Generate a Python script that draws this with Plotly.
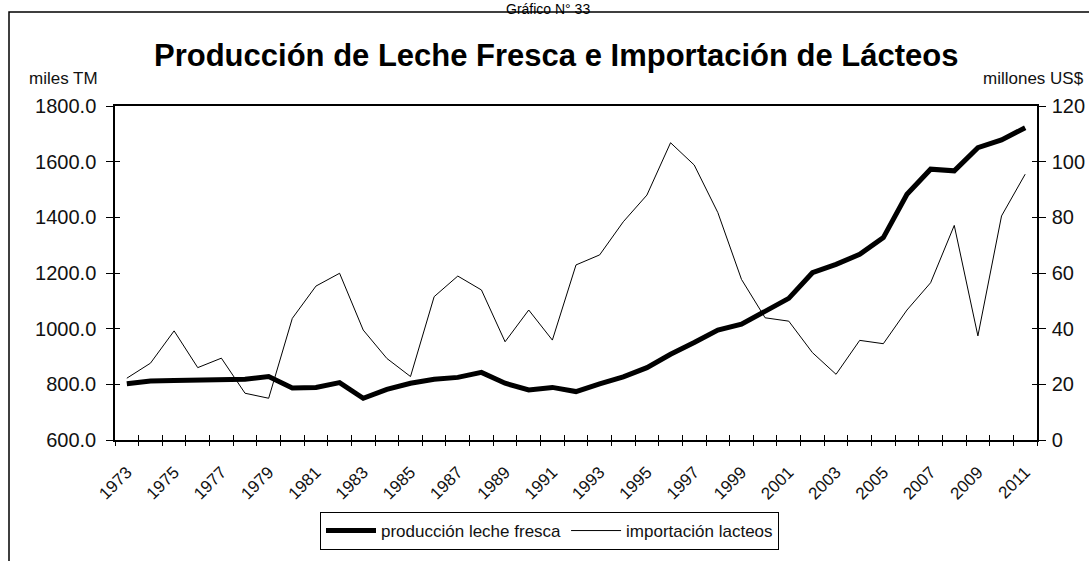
import plotly.graph_objects as go

years = list(range(1973, 2012))
produccion = [802, 812, 814, 815, 818, 818, 828, 787, 789, 806,
              750, 782, 804, 818, 825, 843, 804, 780, 789, 774,
              802, 827, 860, 908, 950, 995, 1016, 1064, 1109, 1201,
              1231, 1267, 1327, 1483, 1573, 1567, 1650, 1678, 1722]
importacion = [22.2, 27.6, 39.2, 26.0, 29.4, 16.8, 15.0, 43.7, 55.3, 59.9,
               39.5, 29.3, 22.8, 51.5, 58.9, 53.9, 35.3, 46.7, 35.9, 62.9,
               66.5, 78.4, 88.0, 106.8, 98.8, 81.7, 57.7, 43.9, 42.7, 31.4,
               23.6, 35.8, 34.6, 46.7, 56.5, 77.1, 37.4, 80.5, 95.5]
label_years = years[::2]
tick_labels = [str(y) for y in label_years]
boundaries = [y - 0.5 for y in years] + [years[-1] + 0.5]

W, H = 1089, 561
# plot area in window pixels
L, R, T, B = 115, 1037, 106, 440
def px2x(p): return (p - L) / (R - L)
def px2y(p): return (B - p) / (B - T)

FONT = "Liberation Sans, Arial, sans-serif"

fig = go.Figure()
fig.add_trace(go.Scatter(x=years, y=produccion, mode="lines", name="producción leche fresca",
                         line=dict(color="black", width=5), xaxis="x", yaxis="y"))
fig.add_trace(go.Scatter(x=years, y=importacion, mode="lines", name="importación lacteos",
                         line=dict(color="black", width=1), xaxis="x", yaxis="y2"))
# helper traces so the tick-only overlay axes are drawn
fig.add_trace(go.Scatter(x=[None], y=[None], xaxis="x2", yaxis="y3", showlegend=False, hoverinfo="skip"))
fig.add_trace(go.Scatter(x=[None], y=[None], xaxis="x3", yaxis="y4", showlegend=False, hoverinfo="skip"))

xr = [years[0] - 0.5, years[-1] + 0.5]
common_x = dict(range=xr, showgrid=False, zeroline=False, fixedrange=True, automargin=False)
fig.update_layout(
    width=W, height=H,
    margin=dict(l=L, r=W - R, t=T, b=H - B, autoexpand=False),
    paper_bgcolor="white", plot_bgcolor="white",
    font=dict(family=FONT, color="#111"),
    xaxis=dict(**common_x, tickmode="array", tickvals=label_years, ticktext=tick_labels,
               tickangle=-45, ticks="", showline=True, linecolor="black", linewidth=1.5,
               mirror=True, tickfont=dict(size=17, color="#111"), ticklabelstandoff=14),
    xaxis2=dict(**common_x, overlaying="x", anchor="y", tickmode="array", tickvals=boundaries,
                showticklabels=False, ticks="outside", ticklen=5, tickwidth=1.3, tickcolor="black",
                showline=False),
    xaxis3=dict(**common_x, overlaying="x", anchor="y", tickmode="array", tickvals=boundaries,
                showticklabels=False, ticks="inside", ticklen=5, tickwidth=1.3, tickcolor="black",
                showline=False),
    yaxis=dict(range=[600, 1800], dtick=200, tick0=600, tickformat=".1f", showgrid=False,
               zeroline=False, showline=True, linecolor="black", linewidth=1.5, automargin=False,
               ticks="outside", ticklen=7, tickwidth=1.3, tickcolor="black",
               tickfont=dict(size=20, color="#111"), ticklabelstandoff=6),
    yaxis2=dict(range=[0, 120], dtick=20, tick0=0, overlaying="y", side="right", anchor="x",
                showgrid=False, zeroline=False, showline=True, linecolor="black", linewidth=1.5,
                automargin=False, ticks="outside", ticklen=7, tickwidth=1.3, tickcolor="black",
                tickfont=dict(size=20, color="#111"), ticklabelstandoff=2),
    yaxis3=dict(range=[600, 1800], dtick=200, tick0=600, overlaying="y", side="left", anchor="x2",
                showgrid=False, zeroline=False, showline=False, showticklabels=False, automargin=False,
                ticks="inside", ticklen=5, tickwidth=1.3, tickcolor="black"),
    yaxis4=dict(range=[0, 120], dtick=20, tick0=0, overlaying="y", side="right", anchor="x3",
                showgrid=False, zeroline=False, showline=False, showticklabels=False, automargin=False,
                ticks="inside", ticklen=5, tickwidth=1.3, tickcolor="black"),
    legend=dict(orientation="h", x=px2x(320), y=px2y(512), xanchor="left", yanchor="top",
                bordercolor="black", borderwidth=1, bgcolor="white",
                font=dict(size=17, color="#111"), itemwidth=50),
    showlegend=True,
)

fig.add_shape(type="rect", xref="paper", yref="paper",
              x0=px2x(9), x1=px2x(1100), y0=px2y(575), y1=px2y(12),
              line=dict(color="black", width=1.5), fillcolor="rgba(0,0,0,0)", layer="below")

fig.add_annotation(text="Producción de Leche Fresca e Importación de Lácteos",
                   xref="paper", yref="paper", x=px2x(556), y=px2y(55),
                   xanchor="center", yanchor="middle", showarrow=False,
                   font=dict(family=FONT, size=31, color="black", weight="bold"))
fig.add_annotation(text="miles TM", xref="paper", yref="paper", x=px2x(27), y=px2y(78),
                   xanchor="left", yanchor="middle", showarrow=False,
                   font=dict(family=FONT, size=17, color="#111"))
fig.add_annotation(text="millones US$", xref="paper", yref="paper", x=px2x(1086), y=px2y(78),
                   xanchor="right", yanchor="middle", showarrow=False,
                   font=dict(family=FONT, size=17, color="#111"))
fig.add_annotation(text="Gráfico N° 33", xref="paper", yref="paper", x=px2x(548), y=px2y(0),
                   xanchor="center", yanchor="top", showarrow=False,
                   borderpad=0, font=dict(family=FONT, size=14, color="black"))

fig.write_html("out.html",
               config={"displayModeBar": False},
               post_script="document.body.style.margin='0';"
                           "document.documentElement.style.overflow='hidden';"
                           "document.body.style.overflow='hidden';")
